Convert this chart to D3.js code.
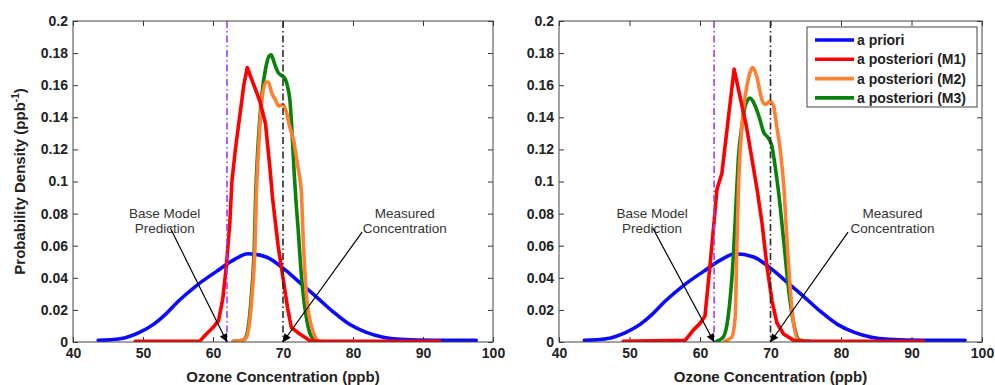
<!DOCTYPE html>
<html><head><meta charset="utf-8">
<script src="https://cdn.jsdelivr.net/npm/d3@7"></script>
<style>body{margin:0;background:#fff;} svg{display:block;font-family:"Liberation Sans",Arial,sans-serif;}</style>
</head><body><svg id="chart" width="995" height="385"></svg>
<script>
// ---------- data ----------
const xTicks = [40, 50, 60, 70, 80, 90, 100];
const yTicks = [0, 0.02, 0.04, 0.06, 0.08, 0.1, 0.12, 0.14, 0.16, 0.18, 0.2];
const yTickLabels = ["0", "0.02", "0.04", "0.06", "0.08", "0.1", "0.12", "0.14", "0.16", "0.18", "0.2"];
const seriesNames = ["a priori", "a posteriori (M1)", "a posteriori (M2)", "a posteriori (M3)"];
const seriesColors = ["#0a0aff", "#ff0000", "#ff8033", "#0a820a"];
const drawOrder = [0, 3, 2, 1]; // a priori, M3, M2, M1 (M1 on top)
const xAxisTitle = "Ozone Concentration (ppb)";
const yAxisTitle = "Probability Density (ppb";
const baseModelValue = 62;
const measuredValue = 70;
const baseModelLabel = ["Base Model", "Prediction"];
const measuredLabel = ["Measured", "Concentration"];

const aPriori = [[43.6,0.001],[46.7,0.002],[49.5,0.006],[51.5,0.011],[52.9,0.016],[55.2,0.026],[57.6,0.035],[60.5,0.044],[62.9,0.051],[65,0.055],[67.6,0.053],[70,0.046],[72.4,0.037],[74.8,0.028],[77.1,0.019],[79.5,0.011],[81.9,0.006],[84.3,0.003],[86.7,0.0017],[91.4,0.001],[97.6,0.001]];

const leftM1 = [[48.9,0.0005],[58.1,0.0005],[59.05,0.005],[60,0.009],[60.8,0.0135],[61.4,0.027],[61.9,0.047],[62.4,0.074],[62.7,0.1],[63.2,0.12],[63.8,0.14],[64.4,0.16],[64.9,0.171],[66.7,0.15],[67.5,0.136],[68.1,0.11],[68.5,0.09],[69.3,0.06],[70,0.04],[70.7,0.02],[71.2,0.009],[72.4,0.005],[73.8,0.001],[75,0.0005],[92.4,0.0005]];
const leftM2 = [[62.9,0.0005],[64.3,0.001],[64.8,0.003],[65.3,0.015],[65.6,0.03],[66,0.06],[66.2,0.092],[66.5,0.12],[66.7,0.135],[67.1,0.155],[67.6,0.162],[67.9,0.162],[68.4,0.155],[68.9,0.151],[69.4,0.147],[70,0.148],[70.5,0.143],[70.9,0.135],[71.5,0.126],[72.2,0.107],[72.6,0.095],[72.9,0.063],[73.3,0.032],[74,0.011],[74.5,0.004],[75.2,0.0005],[75.6,0.0005]];
const leftM3 = [[62.9,0.0005],[64.2,0.001],[64.7,0.003],[65.2,0.015],[65.5,0.03],[65.9,0.06],[66.1,0.092],[66.4,0.12],[66.7,0.14],[67.0,0.155],[67.5,0.17],[68.0,0.178],[68.3,0.179],[68.6,0.176],[68.9,0.172],[69.3,0.168],[69.8,0.166],[70.3,0.164],[70.6,0.16],[71.0,0.15],[71.3,0.13],[71.6,0.105],[71.9,0.085],[72.1,0.074],[72.6,0.043],[73.3,0.016],[73.8,0.006],[74.3,0.002],[75,0.0005]];

const rightM1 = [[49.1,0.0005],[57.9,0.001],[59.05,0.0074],[60,0.0116],[60.7,0.016],[61.4,0.047],[62.0,0.075],[62.4,0.095],[63.1,0.105],[64.84,0.170],[66.6,0.134],[67.6,0.108],[68.1,0.095],[68.8,0.074],[69.5,0.047],[70.2,0.026],[70.9,0.012],[71.85,0.005],[73.3,0.001],[75,0.0005],[91.7,0.0005]];
const rightM2 = [[63.5,0.0005],[64.5,0.003],[65,0.016],[65.2,0.054],[65.45,0.095],[65.7,0.119],[66.16,0.145],[66.64,0.159],[67.1,0.168],[67.44,0.171],[68.07,0.165],[68.78,0.151],[69.25,0.148],[69.96,0.15],[70.43,0.147],[70.9,0.134],[71.4,0.119],[71.9,0.096],[72.33,0.064],[72.8,0.033],[73.27,0.012],[74,0.001],[75,0.0005]];
const rightM3 = [[62.4,0.0005],[63.3,0.003],[64.0,0.016],[64.74,0.054],[65.22,0.096],[65.45,0.115],[65.93,0.134],[66.4,0.147],[66.8,0.151],[67.12,0.152],[67.5,0.15],[67.83,0.147],[68.54,0.138],[69.0,0.131],[69.7,0.127],[70.2,0.122],[70.67,0.109],[71.1,0.095],[71.85,0.064],[72.56,0.033],[73.27,0.012],[74.2,0.001],[75.6,0.0005]];

// ---------- layout ----------
const svg = d3.select("#chart");
const plotTop = 21, plotBottom = 342;
const panels = [
  {x0: 73, x1: 493, series: [aPriori, leftM1, leftM2, leftM3], yTitle: true, legend: false,
   baseText: [53.1, 0.0775], baseArrow: [53.9, 0.071], measText: [87.4, 0.0775], measArrow: [81.3, 0.0685]},
  {x0: 559, x1: 982, series: [aPriori, rightM1, rightM2, rightM3], yTitle: false, legend: true,
   baseText: [53.2, 0.0775], baseArrow: [53.3, 0.071], measText: [87.3, 0.0775], measArrow: [81.0, 0.0685]}
];

const defs = svg.append("defs");
defs.append("marker").attr("id", "arrow").attr("viewBox", "0 0 10 10")
  .attr("refX", 10).attr("refY", 5).attr("markerWidth", 11).attr("markerHeight", 8)
  .attr("markerUnits", "userSpaceOnUse").attr("orient", "auto")
  .append("path").attr("d", "M0,0 L10,5 L0,10 z").attr("fill", "#000");

panels.forEach((p, pi) => {
  const x = d3.scaleLinear().domain([40, 100]).range([p.x0, p.x1]);
  const y = d3.scaleLinear().domain([0, 0.2]).range([plotBottom, plotTop]);
  const g = svg.append("g");
  const clipId = "clip" + pi;
  defs.append("clipPath").attr("id", clipId).append("rect")
    .attr("x", p.x0).attr("y", plotTop).attr("width", p.x1 - p.x0).attr("height", plotBottom - plotTop);

  g.append("rect").attr("x", p.x0).attr("y", plotTop).attr("width", p.x1 - p.x0).attr("height", plotBottom - plotTop)
    .attr("fill", "#fff");

  const tl = 5;
  const axB = d3.axisBottom(x).tickValues(xTicks).tickSize(-tl).tickPadding(6).tickFormat(d3.format("d"));
  const axT = d3.axisTop(x).tickValues(xTicks).tickSize(-tl).tickFormat("");
  const axL = d3.axisLeft(y).tickValues(yTicks).tickSize(-tl).tickPadding(5).tickFormat((d, i) => yTickLabels[i]);
  const axR = d3.axisRight(y).tickValues(yTicks).tickSize(-tl).tickFormat("");
  const styleAx = sel => {
    sel.select(".domain").remove();
    sel.selectAll("line").attr("stroke", "#333").attr("stroke-width", 1);
    sel.selectAll("text").attr("fill", "#222").style("font-size", "14px").style("font-weight", "bold")
      .style("font-family", "'Liberation Sans', Arial, sans-serif");
  };
  g.append("g").attr("transform", `translate(0,${plotBottom})`).call(axB).call(styleAx);
  g.append("g").attr("transform", `translate(0,${plotTop})`).call(axT).call(styleAx);
  g.append("g").attr("transform", `translate(${p.x0},0)`).call(axL).call(styleAx);
  g.append("g").attr("transform", `translate(${p.x1},0)`).call(axR).call(styleAx);

  const smooth = d3.line().x(d => x(d[0])).y(d => y(d[1])).curve(d3.curveMonotoneX);
  const sharp = d3.line().x(d => x(d[0])).y(d => y(d[1])).curve(d3.curveLinear);
  const cg = g.append("g").attr("clip-path", `url(#${clipId})`);
  drawOrder.forEach(i => {
    cg.append("path").datum(p.series[i]).attr("d", i === 1 ? sharp : smooth).attr("fill", "none")
      .attr("stroke", seriesColors[i]).attr("stroke-width", 3.6)
      .attr("stroke-linejoin", "round").attr("stroke-linecap", "round");
  });

  cg.append("line").attr("x1", x(baseModelValue)).attr("x2", x(baseModelValue))
    .attr("y1", plotTop).attr("y2", plotBottom).attr("stroke", "#9d3cff").attr("stroke-width", 1.6)
    .attr("stroke-dasharray", "7,3,1.5,3");
  cg.append("line").attr("x1", x(measuredValue)).attr("x2", x(measuredValue))
    .attr("y1", plotTop).attr("y2", plotBottom).attr("stroke", "#2a2a2a").attr("stroke-width", 1.6)
    .attr("stroke-dasharray", "7,3,1.5,3");

  g.append("rect").attr("x", p.x0).attr("y", plotTop).attr("width", p.x1 - p.x0).attr("height", plotBottom - plotTop)
    .attr("fill", "none").attr("stroke", "#444").attr("stroke-width", 1);

  const ann = (textPos, arrowStart, target, lines) => {
    const t = g.append("text").attr("text-anchor", "middle").attr("fill", "#333")
      .style("font-size", "13.5px");
    lines.forEach((l, k) => t.append("tspan").attr("x", x(textPos[0]))
      .attr("y", y(textPos[1]) + k * 15.5).text(l));
    g.append("line").attr("x1", x(arrowStart[0])).attr("y1", y(arrowStart[1]))
      .attr("x2", x(target)).attr("y2", y(0)).attr("stroke", "#000").attr("stroke-width", 1.2)
      .attr("marker-end", "url(#arrow)");
  };
  ann(p.baseText, p.baseArrow, baseModelValue, baseModelLabel);
  ann(p.measText, p.measArrow, measuredValue, measuredLabel);

  g.append("text").attr("x", (p.x0 + p.x1) / 2).attr("y", 382).attr("text-anchor", "middle")
    .attr("fill", "#222").style("font-size", "15px").style("font-weight", "bold").text(xAxisTitle);

  if (p.yTitle) {
    const yt = g.append("text").attr("transform", `translate(25,${(plotTop + plotBottom) / 2}) rotate(-90)`)
      .attr("text-anchor", "middle").attr("fill", "#222")
      .style("font-size", "15px").style("font-weight", "bold");
    yt.append("tspan").text(yAxisTitle);
    yt.append("tspan").attr("dy", -6).style("font-size", "10px").text("-1");
    yt.append("tspan").attr("dy", 6).text(")");
  }

  if (p.legend) {
    const lx = 807, ly = 27, lw = 170, lh = 80;
    const lg = g.append("g");
    lg.append("rect").attr("x", lx).attr("y", ly).attr("width", lw).attr("height", lh)
      .attr("fill", "#fff").attr("stroke", "#444").attr("stroke-width", 1);
    seriesNames.forEach((n, i) => {
      const yy = ly + 13 + i * 19.3;
      lg.append("line").attr("x1", lx + 8).attr("x2", lx + 47).attr("y1", yy).attr("y2", yy)
        .attr("stroke", seriesColors[i]).attr("stroke-width", 3.6);
      lg.append("text").attr("x", lx + 50).attr("y", yy + 5).attr("fill", "#222")
        .style("font-size", "14px").style("font-weight", "bold").text(n);
    });
  }
});
</script>
</body></html>
